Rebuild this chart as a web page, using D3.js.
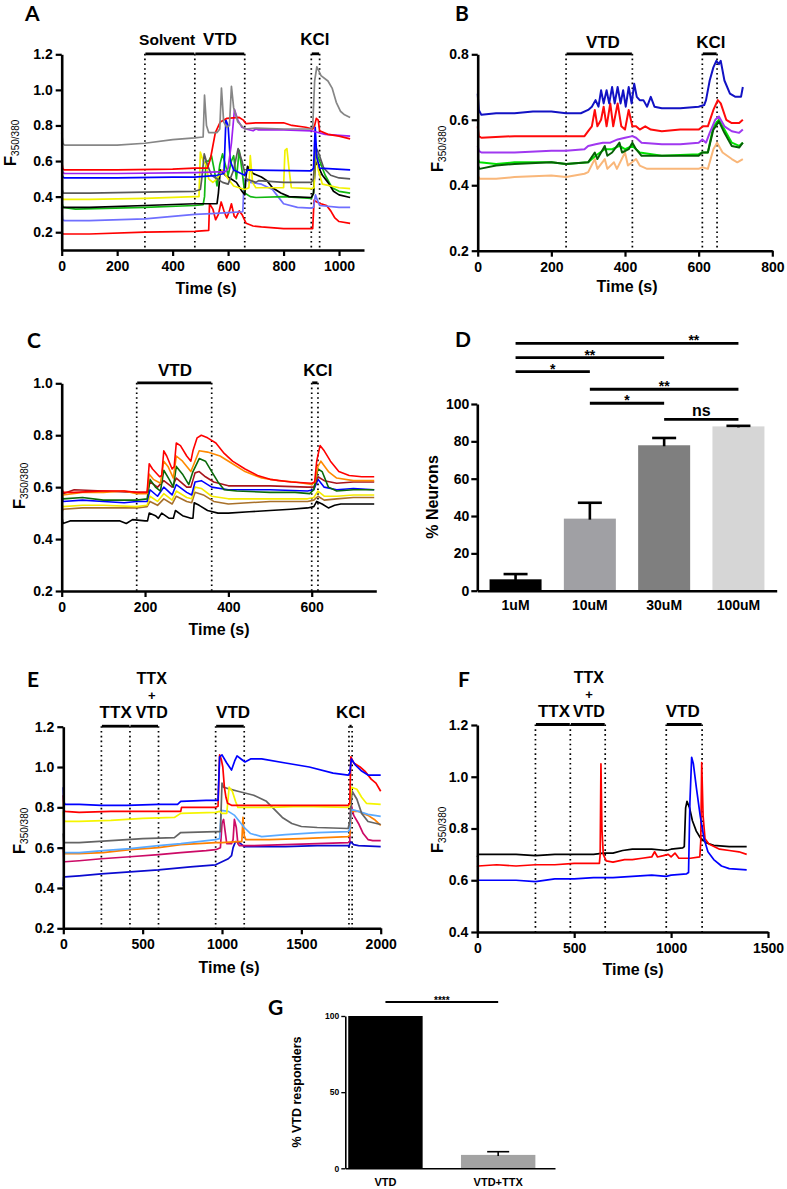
<!DOCTYPE html>
<html><head><meta charset="utf-8">
<script src="https://cdn.jsdelivr.net/npm/d3@7"></script>
<style>body{margin:0;background:#fff}svg{display:block}</style>
</head><body>
<svg id="fig" width="787" height="1189"></svg>
<script>
// ---------------- DATA ----------------
// Panel A traces [time (s), F350/380]
const A_gray = [[0,0.76],[4,0.70],[10,0.69],[100,0.69],[200,0.69],[300,0.70],[400,0.72],[480,0.73],[510,0.735],[515,0.97],[522,0.80],[530,0.76],[560,0.76],[570,0.78],[576,1.01],[584,0.82],[595,0.79],[605,0.80],[612,1.02],[620,0.90],[635,0.82],[660,0.78],[700,0.785],[800,0.78],[900,0.78],[905,0.79],[912,1.05],[920,1.13],[935,1.08],[960,1.05],[975,1.01],[990,0.93],[1005,0.88],[1020,0.86],[1040,0.845]];
const A_redTop = [[0,0.60],[4,0.555],[10,0.55],[200,0.55],[400,0.555],[480,0.56],[525,0.56],[536,0.61],[554,0.76],[572,0.82],[596,0.84],[640,0.845],[655,0.83],[665,0.81],[700,0.815],[800,0.815],[830,0.80],[880,0.79],[905,0.78],[912,0.80],[918,0.84],[925,0.83],[930,0.77],[960,0.75],[1000,0.74],[1040,0.725]];
const A_purple = [[0,0.56],[4,0.535],[10,0.53],[200,0.53],[480,0.535],[590,0.54],[600,0.56],[612,0.70],[623,0.89],[635,0.83],[650,0.79],[665,0.78],[690,0.77],[700,0.78],[710,0.775],[800,0.775],[900,0.77],[950,0.75],[1040,0.74]];
const A_blue = [[0,0.53],[4,0.51],[10,0.505],[200,0.505],[400,0.51],[480,0.51],[560,0.52],[585,0.53],[592,0.83],[600,0.80],[608,0.60],[620,0.55],[660,0.52],[670,0.55],[900,0.545],[908,0.56],[914,0.79],[920,0.62],[930,0.56],[1040,0.55]];
const A_lilac = [[0,0.34],[3,0.27],[10,0.265],[100,0.265],[300,0.275],[480,0.30],[540,0.305],[600,0.31],[653,0.315],[658,0.50],[680,0.48],[720,0.47],[760,0.44],[780,0.40],[800,0.36],[850,0.34],[900,0.335],[908,0.34],[915,0.41],[922,0.38],[930,0.35],[1000,0.34],[1040,0.34]];
const A_yellow = [[0,0.40],[5,0.385],[100,0.385],[300,0.39],[480,0.40],[495,0.40],[500,0.65],[510,0.60],[520,0.58],[530,0.50],[545,0.48],[560,0.50],[580,0.55],[600,0.50],[620,0.46],[640,0.45],[660,0.44],[675,0.45],[680,0.63],[688,0.48],[700,0.45],[800,0.45],[805,0.66],[812,0.67],[820,0.55],[828,0.45],[900,0.445],[910,0.45],[915,0.69],[925,0.55],[940,0.47],[1000,0.45],[1040,0.445]];
const A_darkGray = [[0,0.45],[5,0.42],[100,0.42],[300,0.425],[480,0.43],[500,0.44],[505,0.50],[514,0.64],[525,0.58],[540,0.52],[560,0.50],[580,0.48],[600,0.47],[620,0.55],[636,0.67],[650,0.60],[665,0.50],[700,0.48],[710,0.49],[800,0.48],[900,0.48],[908,0.50],[915,0.68],[925,0.65],[945,0.56],[970,0.52],[1000,0.505],[1040,0.50]];
const A_black = [[0,0.35],[5,0.34],[100,0.34],[300,0.35],[480,0.36],[560,0.36],[565,0.42],[572,0.55],[590,0.52],[610,0.50],[630,0.48],[650,0.43],[660,0.41],[665,0.52],[670,0.57],[690,0.53],[720,0.51],[740,0.49],[760,0.45],[790,0.42],[820,0.40],[900,0.395],[908,0.42],[915,0.60],[925,0.57],[940,0.52],[960,0.48],[980,0.43],[1000,0.41],[1040,0.395]];
const A_green = [[0,0.37],[5,0.34],[50,0.33],[300,0.34],[480,0.35],[510,0.355],[515,0.40],[520,0.60],[530,0.60],[540,0.63],[550,0.55],[560,0.46],[570,0.58],[580,0.64],[590,0.58],[600,0.52],[612,0.60],[620,0.63],[630,0.50],[640,0.66],[650,0.55],[660,0.42],[680,0.40],[700,0.395],[800,0.40],[900,0.39],[908,0.42],[915,0.65],[925,0.62],[950,0.52],[975,0.45],[1000,0.43],[1040,0.42]];
const A_redLow = [[0,0.20],[5,0.19],[100,0.19],[300,0.20],[480,0.205],[530,0.21],[533,0.36],[545,0.33],[555,0.27],[565,0.30],[575,0.37],[585,0.32],[595,0.28],[605,0.32],[612,0.36],[622,0.29],[628,0.28],[640,0.32],[650,0.30],[665,0.25],[690,0.235],[720,0.23],[800,0.22],[900,0.22],[905,0.22],[910,0.38],[920,0.37],[935,0.36],[955,0.35],[970,0.32],[985,0.28],[1000,0.26],[1040,0.25]];
const A_events = [[300,480],[480,660],[900,930]];
const A_eventLabels = [["Solvent",380],["VTD",571],["KCl",913]];
const A_xTicks = [0,200,400,600,800,1000];
const A_yTicks = [0.2,0.4,0.6,0.8,1.0,1.2];

// Panel B traces
const B_blue = [[0,0.68],[3,0.63],[10,0.615],[50,0.62],[100,0.62],[150,0.625],[200,0.625],[240,0.62],[280,0.62],[300,0.63],[310,0.64],[320,0.66],[328,0.64],[335,0.69],[342,0.65],[350,0.69],[357,0.65],[365,0.70],[372,0.65],[380,0.70],[388,0.65],[395,0.69],[402,0.64],[410,0.70],[418,0.65],[425,0.71],[432,0.67],[440,0.66],[450,0.66],[460,0.64],[470,0.67],[480,0.64],[500,0.635],[550,0.635],[600,0.64],[615,0.645],[620,0.66],[630,0.72],[640,0.76],[648,0.78],[655,0.77],[660,0.78],[670,0.72],[685,0.68],[700,0.67],[715,0.67],[720,0.70]];
const B_red = [[0,0.58],[3,0.55],[10,0.545],[100,0.55],[200,0.55],[240,0.55],[290,0.55],[300,0.565],[310,0.58],[318,0.63],[325,0.58],[335,0.60],[342,0.64],[350,0.58],[360,0.65],[368,0.58],[380,0.65],[390,0.58],[400,0.57],[410,0.63],[420,0.58],[430,0.58],[440,0.57],[455,0.58],[470,0.57],[500,0.565],[550,0.57],[600,0.57],[612,0.58],[625,0.58],[640,0.63],[652,0.66],[660,0.65],[675,0.60],[690,0.59],[710,0.59],[720,0.60]];
const B_purple = [[0,0.52],[3,0.505],[10,0.50],[100,0.50],[200,0.505],[240,0.505],[290,0.51],[300,0.52],[320,0.525],[340,0.53],[360,0.53],[380,0.54],[400,0.545],[420,0.55],[430,0.545],[445,0.53],[500,0.525],[550,0.525],[600,0.53],[610,0.54],[620,0.53],[630,0.56],[645,0.60],[655,0.61],[670,0.58],[690,0.565],[710,0.56],[720,0.57]];
const B_green = [[0,0.48],[5,0.47],[50,0.465],[100,0.47],[200,0.47],[240,0.465],[300,0.47],[320,0.49],[345,0.51],[365,0.51],[385,0.52],[400,0.51],[420,0.52],[440,0.50],[500,0.49],[600,0.495],[610,0.50],[625,0.50],[640,0.58],[655,0.60],[670,0.57],[690,0.53],[710,0.52],[720,0.53]];
const B_darkGreen = [[0,0.46],[5,0.45],[50,0.46],[100,0.465],[200,0.47],[240,0.465],[300,0.47],[318,0.50],[325,0.48],[345,0.52],[352,0.49],[365,0.50],[385,0.53],[392,0.50],[410,0.51],[420,0.53],[430,0.51],[445,0.49],[500,0.49],[600,0.49],[610,0.50],[625,0.50],[640,0.57],[655,0.595],[670,0.56],[690,0.52],[710,0.515],[720,0.53]];
const B_peach = [[0,0.43],[5,0.42],[50,0.42],[100,0.425],[200,0.43],[240,0.425],[290,0.435],[300,0.44],[318,0.48],[325,0.45],[345,0.48],[352,0.45],[370,0.47],[378,0.45],[400,0.50],[408,0.46],[430,0.48],[440,0.46],[460,0.45],[500,0.45],[600,0.45],[610,0.455],[625,0.45],[640,0.51],[650,0.53],[665,0.50],[690,0.48],[705,0.47],[720,0.48]];
const B_events = [[240,420],[610,650]];
const B_eventLabels = [["VTD",340],["KCl",633]];
const B_xTicks = [0,200,400,600,800];
const B_yTicks = [0.2,0.4,0.6,0.8];

// Panel C traces
const C_red = [[0,0.60],[3,0.58],[30,0.58],[100,0.585],[150,0.585],[180,0.58],[205,0.58],[210,0.69],[218,0.67],[235,0.64],[240,0.645],[245,0.74],[252,0.72],[265,0.67],[270,0.68],[275,0.77],[285,0.76],[300,0.72],[310,0.70],[315,0.74],[325,0.79],[335,0.80],[350,0.79],[370,0.77],[390,0.73],[410,0.70],[440,0.67],[470,0.645],[500,0.63],[550,0.62],[600,0.615],[607,0.62],[612,0.70],[620,0.76],[630,0.74],[645,0.70],[665,0.66],[690,0.645],[720,0.64],[750,0.64]];
const C_orange = [[0,0.55],[3,0.57],[50,0.58],[100,0.58],[150,0.585],[180,0.575],[205,0.575],[210,0.65],[220,0.63],[237,0.615],[245,0.70],[255,0.68],[268,0.635],[275,0.72],[290,0.70],[310,0.66],[320,0.70],[330,0.74],[350,0.735],[380,0.72],[410,0.69],[440,0.66],[480,0.635],[520,0.625],[560,0.62],[600,0.61],[608,0.62],[615,0.68],[622,0.70],[640,0.66],[660,0.635],[700,0.625],[750,0.625]];
const C_green = [[0,0.57],[3,0.555],[50,0.56],[100,0.55],[150,0.55],[180,0.55],[205,0.555],[212,0.63],[225,0.60],[237,0.585],[245,0.665],[258,0.63],[268,0.60],[275,0.68],[290,0.65],[305,0.61],[315,0.66],[330,0.71],[345,0.70],[360,0.66],[375,0.62],[390,0.59],[420,0.585],[500,0.58],[560,0.58],[595,0.575],[605,0.59],[615,0.67],[625,0.66],[640,0.60],[660,0.585],[700,0.59],[750,0.59]];
const C_darkRed = [[0,0.60],[3,0.575],[30,0.59],[100,0.585],[180,0.58],[205,0.58],[212,0.62],[230,0.60],[245,0.625],[265,0.60],[275,0.635],[300,0.60],[310,0.60],[320,0.655],[330,0.66],[345,0.64],[365,0.62],[400,0.605],[500,0.605],[590,0.60],[605,0.60],[615,0.64],[630,0.625],[660,0.615],[700,0.62],[750,0.62]];
const C_blue = [[0,0.57],[3,0.545],[50,0.55],[100,0.545],[150,0.54],[180,0.545],[205,0.545],[212,0.59],[230,0.565],[245,0.60],[265,0.57],[275,0.61],[300,0.58],[312,0.57],[320,0.62],[335,0.625],[360,0.60],[400,0.59],[500,0.59],[590,0.585],[605,0.59],[615,0.63],[630,0.60],[660,0.59],[700,0.595],[750,0.59]];
const C_yellow = [[0,0.535],[3,0.525],[50,0.53],[100,0.53],[180,0.525],[205,0.53],[212,0.565],[230,0.545],[245,0.575],[265,0.55],[275,0.585],[300,0.56],[312,0.555],[320,0.60],[335,0.595],[360,0.565],[400,0.555],[500,0.555],[590,0.555],[605,0.56],[615,0.585],[630,0.565],[660,0.565],[700,0.57],[750,0.57]];
const C_brown = [[0,0.50],[3,0.515],[50,0.52],[100,0.52],[180,0.52],[205,0.525],[212,0.545],[230,0.53],[245,0.555],[265,0.535],[275,0.565],[300,0.545],[312,0.54],[320,0.58],[340,0.57],[365,0.545],[400,0.535],[500,0.545],[590,0.545],[605,0.55],[615,0.565],[630,0.55],[660,0.555],[700,0.56],[750,0.56]];
const C_black = [[0,0.49],[3,0.46],[20,0.47],[100,0.47],[140,0.47],[155,0.46],[170,0.475],[200,0.47],[206,0.47],[210,0.50],[225,0.49],[232,0.48],[240,0.50],[258,0.48],[268,0.48],[273,0.51],[290,0.49],[310,0.48],[315,0.48],[318,0.54],[330,0.53],[350,0.51],[375,0.50],[400,0.50],[450,0.505],[500,0.51],[550,0.515],[590,0.52],[605,0.525],[612,0.545],[625,0.535],[640,0.52],[655,0.53],[670,0.535],[700,0.535],[750,0.535]];
const C_events = [[180,360],[600,615]];
const C_eventLabels = [["VTD",272],["KCl",615]];
const C_xTicks = [0,200,400,600];
const C_yTicks = [0.2,0.4,0.6,0.8,1.0];

// Panel D bars
const D_categories = ["1uM","10uM","30uM","100uM"];
const D_values = [6.1, 38.6, 77.9, 88.0];
const D_errors = [2.8, 8.5, 3.9, 0.3];
const D_yTicks = [0,20,40,60,80,100];
const D_sigPairs = [[0,3,"**"],[0,2,"**"],[0,1,"*"],[1,3,"**"],[1,2,"*"],[2,3,"ns"]];
const D_sigLevels = [132.5, 124.8, 117.3, 107.9, 100.4, 91.8];

// Panel E traces
const E_blue = [[0,0.90],[3,0.83],[10,0.815],[100,0.815],[240,0.81],[400,0.81],[600,0.815],[720,0.815],[740,0.83],[900,0.835],[975,0.835],[985,1.05],[1000,1.06],[1030,1.02],[1060,0.985],[1080,1.03],[1095,1.055],[1120,1.04],[1145,1.025],[1180,1.04],[1250,1.04],[1400,1.02],[1550,1.0],[1700,0.97],[1795,0.96],[1805,0.97],[1815,1.04],[1840,1.01],[1880,0.98],[1920,0.96],[2000,0.96]];
const E_red = [[0,0.86],[3,0.79],[10,0.78],[100,0.775],[300,0.78],[500,0.78],[600,0.78],[740,0.78],[745,0.80],[960,0.80],[975,0.805],[985,1.06],[995,1.04],[1005,1.0],[1015,0.90],[1025,0.85],[1035,0.82],[1060,0.81],[1200,0.81],[1500,0.81],[1795,0.81],[1805,0.82],[1812,1.05],[1830,1.02],[1870,1.0],[1900,0.98],[1940,0.94],[1970,0.92],[2000,0.88]];
const E_yellow = [[0,0.78],[3,0.74],[10,0.73],[100,0.73],[300,0.735],[500,0.745],[700,0.75],[740,0.77],[960,0.775],[985,0.78],[1000,0.77],[1030,0.77],[1045,0.90],[1065,0.88],[1085,0.83],[1100,0.80],[1150,0.80],[1300,0.80],[1500,0.805],[1795,0.80],[1805,0.81],[1815,0.90],[1850,0.89],[1880,0.85],[1910,0.82],[2000,0.815]];
const E_gray = [[0,0.67],[3,0.63],[10,0.625],[100,0.625],[300,0.635],[500,0.645],[700,0.65],[740,0.675],[960,0.68],[990,0.68],[1000,0.92],[1010,0.90],[1050,0.89],[1100,0.88],[1200,0.86],[1280,0.83],[1330,0.79],[1380,0.75],[1440,0.72],[1500,0.705],[1600,0.70],[1795,0.695],[1805,0.73],[1820,0.88],[1850,0.84],[1880,0.77],[1920,0.73],[2000,0.715]];
const E_lightBlue = [[0,0.60],[3,0.58],[10,0.575],[100,0.575],[250,0.585],[420,0.595],[600,0.61],[740,0.62],[960,0.64],[985,0.645],[995,0.785],[1040,0.78],[1080,0.76],[1110,0.73],[1140,0.70],[1180,0.67],[1250,0.655],[1400,0.665],[1600,0.675],[1795,0.68],[1805,0.69],[1815,0.79],[1860,0.78],[1920,0.765],[2000,0.755]];
const E_orange = [[0,0.59],[3,0.575],[10,0.57],[100,0.57],[250,0.575],[420,0.59],[600,0.60],[740,0.615],[960,0.625],[1000,0.625],[1100,0.63],[1125,0.63],[1132,0.75],[1140,0.66],[1150,0.64],[1300,0.64],[1500,0.645],[1795,0.655],[1805,0.66],[1815,0.78],[1860,0.78],[1920,0.76],[1960,0.74],[2000,0.71]];
const E_crimson = [[0,0.60],[3,0.535],[10,0.53],[100,0.535],[240,0.545],[420,0.555],[600,0.565],[740,0.575],[900,0.585],[960,0.59],[990,0.60],[1000,0.72],[1010,0.74],[1020,0.68],[1030,0.62],[1060,0.62],[1070,0.64],[1078,0.74],[1090,0.70],[1100,0.62],[1110,0.61],[1200,0.61],[1400,0.615],[1600,0.62],[1795,0.625],[1805,0.63],[1812,0.82],[1830,0.76],[1860,0.72],[1890,0.67],[1920,0.64],[1950,0.635],[2000,0.635]];
const E_darkBlue = [[0,0.41],[3,0.455],[10,0.455],[100,0.46],[240,0.47],[420,0.48],[600,0.49],[800,0.505],[960,0.515],[1000,0.53],[1040,0.545],[1060,0.56],[1070,0.60],[1085,0.63],[1110,0.625],[1140,0.605],[1200,0.605],[1400,0.605],[1600,0.61],[1795,0.61],[1800,0.605],[1810,0.63],[1830,0.615],[1860,0.61],[2000,0.605]];
const E_events = [[240,420],[420,600],[960,1140],[1800,1820]];
const E_eventLabels = [[["TTX"],330],[["TTX","+","VTD"],557],[["VTD"],1070],[["KCl"],1810]];
const E_xTicks = [0,500,1000,1500,2000];
const E_yTicks = [0.2,0.4,0.6,0.8,1.0,1.2];

// Panel F traces
const F_black = [[0,0.69],[5,0.70],[100,0.70],[200,0.70],[300,0.695],[400,0.70],[500,0.70],[600,0.70],[650,0.705],[700,0.705],[750,0.715],[800,0.72],[900,0.72],[975,0.715],[1000,0.72],[1060,0.725],[1068,0.73],[1075,0.88],[1082,0.905],[1095,0.88],[1110,0.83],[1130,0.79],[1150,0.765],[1180,0.745],[1220,0.735],[1300,0.73],[1390,0.73]];
const F_red = [[0,0.65],[5,0.655],[100,0.66],[200,0.655],[300,0.66],[400,0.66],[500,0.665],[600,0.665],[630,0.665],[634,0.70],[638,1.05],[643,0.80],[650,0.70],[665,0.675],[700,0.67],[760,0.68],[800,0.68],[850,0.685],[900,0.69],[915,0.71],[930,0.69],[960,0.695],[985,0.70],[1000,0.69],[1020,0.705],[1040,0.685],[1100,0.685],[1148,0.69],[1153,0.75],[1158,1.055],[1165,0.85],[1175,0.76],[1195,0.74],[1250,0.72],[1300,0.715],[1350,0.71],[1390,0.70]];
const F_blue = [[0,0.60],[100,0.60],[200,0.60],[300,0.595],[400,0.605],[500,0.605],[600,0.61],[700,0.61],[800,0.615],[900,0.62],[975,0.615],[1000,0.62],[1080,0.625],[1090,0.63],[1097,0.90],[1106,1.075],[1115,1.05],[1130,0.96],[1150,0.85],[1170,0.76],[1190,0.71],[1220,0.68],[1260,0.655],[1300,0.645],[1390,0.64]];
const F_events = [[300,480],[480,660],[975,1160]];
const F_eventLabels = [[["TTX"],396],[["TTX","+","VTD"],576],[["VTD"],1060]];
const F_xTicks = [0,500,1000,1500];
const F_yTicks = [0.4,0.6,0.8,1.0,1.2];

// Panel G bars
const G_categories = ["VTD","VTD+TTX"];
const G_values = [100, 8.8];
const G_errors = [0, 2.1];
const G_yTicks = [0,50,100];
const G_sigPairs = [[0,1,"****"]];
const G_sigLevels = [109.2];

// ---------------- DRAWING ----------------
const svg = d3.select("#fig");
const FONT = "'Liberation Sans', Arial, Helvetica, sans-serif";
const LETTER_FONT = "Lato, 'Open Sans', sans-serif";

function styleAxis(sel, fs, sw) {
  sel.attr("font-family", FONT).attr("font-size", fs).attr("font-weight", "bold");
  sel.select(".domain").attr("stroke", "#000").attr("stroke-width", sw);
  sel.selectAll(".tick line").attr("stroke", "#000").attr("stroke-width", sw * 0.85);
  sel.selectAll(".tick text").attr("fill", "#000");
}

function letter(text, x, y) {
  svg.append("text").attr("x", x).attr("y", y).attr("font-family", LETTER_FONT)
    .attr("font-weight", "bold").attr("font-size", 21).attr("fill", "#000").text(text);
}

function fLabel(g, x, y) {
  const t = g.append("text").attr("transform", `translate(${x},${y}) rotate(-90)`)
    .attr("text-anchor", "middle").attr("font-family", FONT).attr("fill", "#000");
  t.append("tspan").attr("font-size", 17).attr("font-weight", "bold").text("F");
  t.append("tspan").attr("font-size", 10).attr("dy", 3).text("350/380");
}

function tracePanel(cfg) {
  const g = svg.append("g");
  const x = d3.scaleLinear().domain(cfg.xDomain).range(cfg.xRange);
  const y = d3.scaleLinear().domain(cfg.yDomain).range(cfg.yRange);
  const barY = cfg.yRange[1] - 0.5;
  const bottom = cfg.yRange[0];
  // dotted boundaries
  const bounds = Array.from(new Set(cfg.events.flat()));
  g.selectAll("line.dot").data(bounds).join("line")
    .attr("x1", d => x(d)).attr("x2", d => x(d)).attr("y1", barY).attr("y2", bottom)
    .attr("stroke", "#000").attr("stroke-width", 1.7).attr("stroke-dasharray", "1.6 3.2");
  // traces
  const line = d3.line().x(d => x(d[0])).y(d => y(d[1]));
  cfg.traces.forEach(tr => {
    g.append("path").datum(tr.data).attr("d", line).attr("fill", "none")
      .attr("stroke", tr.color).attr("stroke-width", cfg.lw).attr("stroke-linejoin", "round");
  });
  // event bars
  g.selectAll("line.bar").data(cfg.events).join("line")
    .attr("x1", d => x(d[0]) + 0.5).attr("x2", d => x(d[1]) - 0.5).attr("y1", barY).attr("y2", barY)
    .attr("stroke", "#000").attr("stroke-width", 2.8);
  // event labels
  cfg.labels.forEach(([txt, t]) => {
    const lines = Array.isArray(txt) ? txt : [txt];
    const stacked = lines.length === 3;
    const offs = stacked ? [-34, -18, 0] : [0];
    const sizes = stacked ? [16, 13, 16] : [txt === "Solvent" ? 15.5 : 17];
    lines.forEach((s, i) => {
      g.append("text").attr("x", x(t)).attr("y", barY + cfg.labelDy + offs[i])
        .attr("text-anchor", "middle").attr("font-family", FONT).attr("font-weight", "bold")
        .attr("font-size", sizes[i]).attr("fill", "#000").text(s);
    });
  });
  // axes
  const xa = g.append("g").attr("transform", `translate(0,${bottom})`)
    .call(d3.axisBottom(x).tickValues(cfg.xTicks).tickFormat(d3.format("d"))
      .tickSize(6).tickSizeOuter(0).tickPadding(5));
  styleAxis(xa, 14, 2.6);
  const ya = g.append("g").attr("transform", `translate(${cfg.xRange[0]},0)`)
    .call(d3.axisLeft(y).tickValues(cfg.yTicks).tickFormat(d3.format(".1f"))
      .tickSize(6).tickSizeOuter(0).tickPadding(3));
  styleAxis(ya, 14, 2.6);
  // titles
  g.append("text").attr("x", cfg.xlab[0]).attr("y", cfg.xlab[1]).attr("text-anchor", "middle")
    .attr("font-family", FONT).attr("font-weight", "bold").attr("font-size", 16).text("Time (s)");
  fLabel(g, cfg.ylab[0], cfg.ylab[1]);
  letter(cfg.letter, cfg.letterPos[0], cfg.letterPos[1]);
}

function barPanel(cfg) {
  const g = svg.append("g");
  const x = d3.scaleBand().domain(cfg.categories).range(cfg.xRange)
    .paddingInner(cfg.pIn).paddingOuter(cfg.pOut).align(cfg.align);
  const y = d3.scaleLinear().domain([0, 100]).range(cfg.yRange);
  const bw = x.bandwidth();
  g.selectAll("rect").data(cfg.values).join("rect")
    .attr("x", (d, i) => x(cfg.categories[i])).attr("width", bw)
    .attr("y", d => y(d)).attr("height", d => y(0) - y(d))
    .attr("fill", (d, i) => cfg.colors[i]);
  // error bars (upper)
  cfg.errors.forEach((e, i) => {
    const cx = x(cfg.categories[i]) + bw / 2;
    if (e <= 0) return;
    g.append("line").attr("x1", cx).attr("x2", cx).attr("y1", y(cfg.values[i]) + 1).attr("y2", y(cfg.values[i] + e))
      .attr("stroke", "#000").attr("stroke-width", cfg.errW);
    g.append("line").attr("x1", cx - cfg.cap / 2).attr("x2", cx + cfg.cap / 2)
      .attr("y1", y(cfg.values[i] + e)).attr("y2", y(cfg.values[i] + e))
      .attr("stroke", "#000").attr("stroke-width", cfg.errW);
  });
  // significance
  cfg.sigPairs.forEach(([a, b, lab], i) => {
    const x1 = x(cfg.categories[a]) + bw / 2, x2 = x(cfg.categories[b]) + bw / 2;
    const ly = y(cfg.sigLevels[i]);
    g.append("line").attr("x1", x1).attr("x2", x2).attr("y1", ly).attr("y2", ly)
      .attr("stroke", "#000").attr("stroke-width", cfg.sigW);
    const frac = cfg.sigFrac ? cfg.sigFrac[i] : 0.5;
    const isNs = lab === "ns";
    g.append("text").attr("x", x1 + (x2 - x1) * frac)
      .attr("y", isNs ? ly - 3.5 : ly + cfg.starDy)
      .attr("text-anchor", "middle").attr("font-family", FONT).attr("font-weight", "bold")
      .attr("font-size", isNs ? 16 : cfg.starFs).attr("fill", "#000").text(lab);
  });
  // axes
  const xa = g.append("g").attr("transform", `translate(0,${cfg.yRange[0]})`)
    .call(d3.axisBottom(x).tickSize(0).tickPadding(cfg.xPad).tickSizeOuter(0));
  styleAxis(xa, cfg.xFs, cfg.axW);
  const ya = g.append("g").attr("transform", `translate(${cfg.xRange[0]},0)`)
    .call(d3.axisLeft(y).tickValues(cfg.yTicks).tickFormat(d3.format("d"))
      .tickSize(cfg.tick).tickSizeOuter(0).tickPadding(2));
  styleAxis(ya, cfg.yFs, cfg.axW);
  g.append("text").attr("transform", `translate(${cfg.ylab[0]},${cfg.ylab[1]}) rotate(-90)`)
    .attr("text-anchor", "middle").attr("font-family", FONT).attr("font-weight", "bold")
    .attr("font-size", cfg.ylabFs).text(cfg.ylabText);
  letter(cfg.letter, cfg.letterPos[0], cfg.letterPos[1]);
}

// Panel A
tracePanel({
  xDomain: [0, 1090], xRange: [61.7, 364], yDomain: [0.1, 1.2], yRange: [250, 54.3],
  xTicks: A_xTicks, yTicks: A_yTicks, lw: 1.7, labelDy: -9,
  traces: [
    {data: A_redLow, color: "#ff0000"}, {data: A_lilac, color: "#6f6fff"},
    {data: A_green, color: "#12b812"}, {data: A_black, color: "#000000"},
    {data: A_yellow, color: "#f2f200"}, {data: A_darkGray, color: "#5a5a5a"},
    {data: A_blue, color: "#0000ff"}, {data: A_purple, color: "#a020f0"},
    {data: A_redTop, color: "#ff0000"}, {data: A_gray, color: "#868686"}
  ],
  events: A_events, labels: A_eventLabels,
  xlab: [206, 294], ylab: [16, 143], letter: "A", letterPos: [25, 21]
});

// Panel B
tracePanel({
  xDomain: [0, 800], xRange: [477.7, 772.3], yDomain: [0.2, 0.8], yRange: [250.7, 54.3],
  xTicks: B_xTicks, yTicks: B_yTicks, lw: 2, labelDy: -5.5,
  traces: [
    {data: B_peach, color: "#f9b77a"}, {data: B_green, color: "#00e400"},
    {data: B_darkGreen, color: "#066006"}, {data: B_purple, color: "#a038f0"},
    {data: B_red, color: "#ff0a0a"}, {data: B_blue, color: "#1212c4"}
  ],
  events: B_events, labels: B_eventLabels,
  xlab: [627, 292], ylab: [443, 149], letter: "B", letterPos: [455, 21]
});

// Panel C
tracePanel({
  xDomain: [0, 755], xRange: [61.7, 376.3], yDomain: [0.2, 1.0], yRange: [591, 383.3],
  xTicks: C_xTicks, yTicks: C_yTicks, lw: 1.6, labelDy: -6.5,
  traces: [
    {data: C_black, color: "#000000"}, {data: C_brown, color: "#a8702a"},
    {data: C_yellow, color: "#f5ea00"}, {data: C_blue, color: "#0000ff"},
    {data: C_darkRed, color: "#a8141c"}, {data: C_green, color: "#0a6a0a"},
    {data: C_orange, color: "#ff8a00"}, {data: C_red, color: "#ff0000"}
  ],
  events: C_events, labels: C_eventLabels,
  xlab: [219, 635], ylab: [25, 486], letter: "C", letterPos: [27, 348]
});

// Panel D
barPanel({
  categories: D_categories, values: D_values, errors: D_errors,
  colors: ["#000000", "#a0a0a4", "#7f7f7f", "#d6d6d6"],
  xRange: [477.3, 776.7], yRange: [590.7, 404], pIn: 0.3, pOut: 0.165, align: 0.5,
  yTicks: D_yTicks, sigPairs: D_sigPairs, sigLevels: D_sigLevels,
  sigFrac: [0.8, 0.5, 0.5, 0.5, 0.5, 0.5], sigW: 2.8, starDy: 2, starFs: 14,
  errW: 2.6, cap: 24, axW: 2.6, tick: 6, xPad: 9, xFs: 14, yFs: 14,
  ylab: [438, 497], ylabFs: 16, ylabText: "% Neurons", letter: "D", letterPos: [455, 347]
});

// Panel E
tracePanel({
  xDomain: [0, 2000], xRange: [63.3, 380.7], yDomain: [0.2, 1.2], yRange: [928.3, 726.7],
  xTicks: E_xTicks, yTicks: E_yTicks, lw: 1.7, labelDy: -8,
  traces: [
    {data: E_darkBlue, color: "#0a0ad0"}, {data: E_crimson, color: "#cc0a66"},
    {data: E_orange, color: "#ff8000"}, {data: E_lightBlue, color: "#5aaaff"},
    {data: E_gray, color: "#646464"}, {data: E_yellow, color: "#f5f500"},
    {data: E_red, color: "#ff0000"}, {data: E_blue, color: "#0000ff"}
  ],
  events: E_events, labels: E_eventLabels,
  xlab: [229, 973], ylab: [25, 831], letter: "E", letterPos: [27, 687]
});

// Panel F
tracePanel({
  xDomain: [0, 1500], xRange: [477.3, 768], yDomain: [0.4, 1.2], yRange: [932, 725],
  xTicks: F_xTicks, yTicks: F_yTicks, lw: 1.7, labelDy: -8,
  traces: [
    {data: F_black, color: "#000000"}, {data: F_red, color: "#ff0000"}, {data: F_blue, color: "#0000ff"}
  ],
  events: F_events, labels: F_eventLabels,
  xlab: [633, 975], ylab: [443, 830], letter: "F", letterPos: [458, 687]
});

// Panel G
barPanel({
  categories: G_categories, values: G_values, errors: G_errors,
  colors: ["#000000", "#a3a3a3"],
  xRange: [345.3, 555], yRange: [1168.3, 1016], pIn: 0.34, pOut: 0.1, align: 0.13,
  yTicks: G_yTicks, sigPairs: G_sigPairs, sigLevels: G_sigLevels,
  sigW: 2, starDy: 2, starFs: 10,
  errW: 1.6, cap: 22, axW: 1.6, tick: 4, xPad: 10, xFs: 11, yFs: 8.5,
  ylab: [301, 1092], ylabFs: 12.5, ylabText: "% VTD responders", letter: "G", letterPos: [268, 1015]
});
</script>
</body></html>
